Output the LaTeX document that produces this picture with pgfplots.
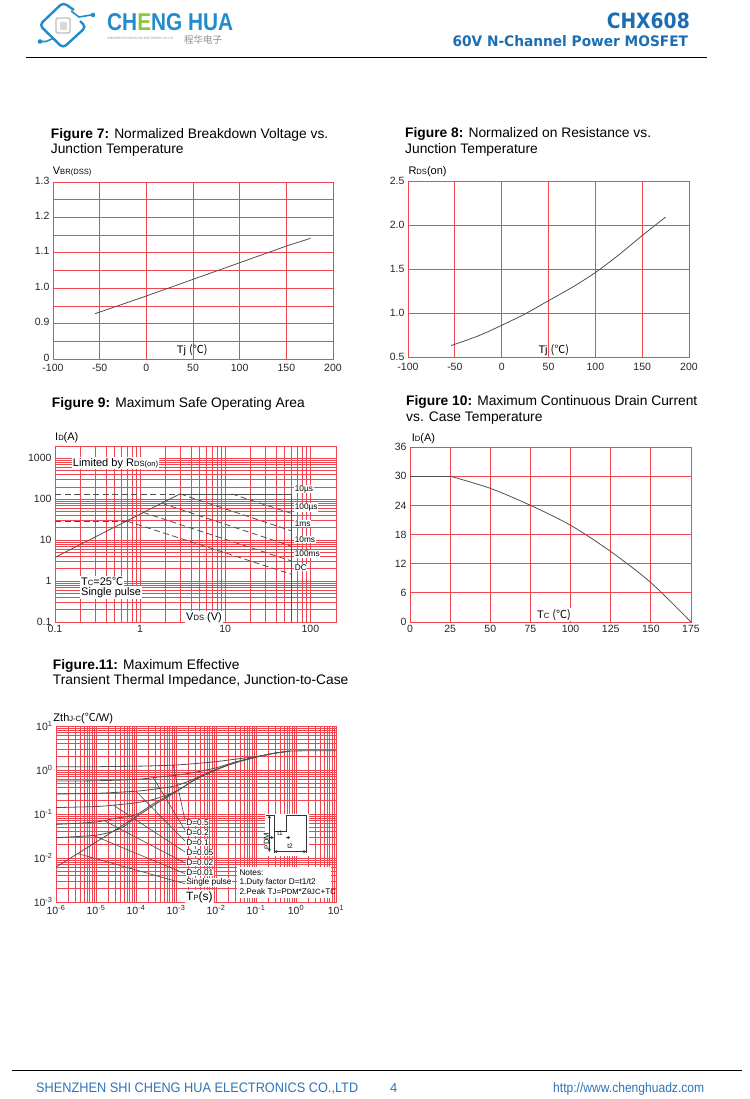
\documentclass[border=0pt]{standalone}
\usepackage{fontspec}
\setmainfont{Liberation Sans}
\newfontfamily\cjk{Noto Sans CJK SC}
\newfontfamily\dvb{DejaVu Sans}
\usepackage{graphicx}
\usepackage{pgfplots}
\pgfplotsset{compat=1.18}
\definecolor{gridred}{RGB}{240,70,80}
\definecolor{hblue}{RGB}{27,110,178}
\definecolor{logoblue}{RGB}{32,140,204}
\definecolor{logogreen}{RGB}{141,198,63}
\definecolor{fblue}{RGB}{45,115,185}
\definecolor{crv}{RGB}{80,80,80}
\newcommand\sm[1]{{\fontsize{7.6bp}{8bp}\selectfont #1}}
\newcommand\tf{\fontsize{13.8bp}{15bp}\selectfont}
\newcommand\lf{\fontsize{10.5bp}{12bp}\selectfont}
\newcommand\af{\fontsize{11bp}{12bp}\selectfont}
\newcommand\nf{\fontsize{8.3bp}{9bp}\selectfont}
\pgfplotsset{
  dsaxis/.style={
    scale only axis, anchor=south west,
    axis line style={draw=gridred, line width=0.9bp},
    grid=both,
    major grid style={draw=gridred, line width=0.75bp},
    minor grid style={draw=gridred, line width=0.75bp},
    major tick length=0pt, minor tick length=0pt,
    tick label style={font=\lf, text=black!85},
    /pgf/number format/assume math mode=true,
  },
  crvs/.style={draw=crv, line width=0.8bp, mark=none},
  dsh/.style={draw=crv, line width=0.8bp, mark=none, dash pattern=on 6bp off 3.5bp},
}
\begin{document}
\begin{tikzpicture}
\path[use as bounding box] (0,0) rectangle (750bp,-1099bp);

% ---------------- Figure 7
\begin{axis}[dsaxis, at={(53bp,-359bp)}, width=280bp, height=177bp,
  xmin=-100, xmax=200, ymin=0.8, ymax=1.3,
  xtick={-100,-50,0,50,100,150,200}, xticklabels={-100,-50,0,50,100,150,200},
  xticklabel style={yshift=-1.5bp},
  yticklabel style={yshift=1.5bp},
  ytick={0.8,0.9,1.0,1.1,1.2,1.3}, yticklabels={0,0.9,1.0,1.1,1.2,1.3},
  minor ytick={0.85,0.95,1.05,1.15,1.25}]
\addplot[crvs] coordinates {(-55,0.928) (0,0.978) (50,1.025) (100,1.072) (150,1.119) (176,1.141)};
\end{axis}

% ---------------- Figure 8
\begin{axis}[dsaxis, at={(408bp,-357bp)}, width=281bp, height=176bp,
  xmin=-100, xmax=200, ymin=0.5, ymax=2.5,
  xtick={-100,-50,0,50,100,150,200}, xticklabels={-100,-50,0,50,100,150,200},
  xticklabel style={yshift=-2.5bp},
  ytick={0.5,1.0,1.5,2.0,2.5}, yticklabels={0.5,1.0,1.5,2.0,2.5}]
\addplot[crvs, smooth] coordinates {(-54,0.63) (-25,0.74) (0,0.86) (25,0.99) (50,1.14) (75,1.29) (100,1.46) (125,1.66) (150,1.88) (175,2.09)};
\end{axis}

% ---------------- Figure 9
\begin{axis}[dsaxis, at={(55bp,-622bp)}, width=281bp, height=176bp,
  xmode=log, ymode=log, xmin=0.1, xmax=200, ymin=0.1, ymax=2000,
  xtick={0.1,1,10,100}, xticklabels={0.1,1,10,100},
  ytick={0.1,1,10,100,1000}, yticklabels={0.1,1,10,100,1000},
  minor xtick={0.2,0.3,0.4,0.5,0.6,0.7,0.8,0.9,2,3,4,5,6,7,8,9,20,30,40,50,60,70,80,90,200},
  minor ytick={0.2,0.3,0.4,0.5,0.6,0.7,0.8,0.9,2,3,4,5,6,7,8,9,20,30,40,50,60,70,80,90,200,300,400,500,600,700,800,900,2000}]
\addplot[crvs] coordinates {(0.1,3.8) (2.94,135)};
\addplot[dsh] coordinates {(0.1,135) (2.94,135)};
\addplot[crvs] coordinates {(2.94,135) (60,135) (60,0.1)};
\addplot[dsh] coordinates {(11.9,135) (60,45)};
\addplot[dsh] coordinates {(2.94,135) (60,16.9)};
\addplot[dsh] coordinates {(1.79,80) (60,7.1)};
\addplot[dsh] coordinates {(1.09,47.6) (60,3.1)};
\addplot[dsh] coordinates {(0.70,29.2) (60,1.47)};
\addplot[dsh] coordinates {(0.1,29.2) (0.70,29.2)};
\end{axis}

% ---------------- Figure 10
\begin{axis}[dsaxis, at={(410bp,-622bp)}, width=281bp, height=175bp,
  xmin=0, xmax=175, ymin=0, ymax=36,
  xtick={0,25,50,75,100,125,150,175}, xticklabels={0,25,50,75,100,125,150,175},
  ytick={0,6,12,18,24,30,36}, yticklabels={0,6,12,18,24,30,36}]
\addplot[crvs] coordinates {(0,30) (25,30)};
\addplot[crvs, smooth] coordinates {(25,30) (50,27.5) (75,24.0) (100,19.9) (125,14.5) (150,8.1) (175,0)};
\end{axis}

% ---------------- Figure 11
\begin{axis}[dsaxis, at={(56bp,-902bp)}, width=280bp, height=176bp,
  xmode=log, ymode=log, xmin=1e-6, xmax=10, ymin=1e-3, ymax=10,
  xtick={1e-6,1e-5,1e-4,1e-3,1e-2,1e-1,1,10},
  xticklabels={10\textsuperscript{-6},10\textsuperscript{-5},10\textsuperscript{-4},10\textsuperscript{-3},10\textsuperscript{-2},10\textsuperscript{-1},10\textsuperscript{0},10\textsuperscript{1}},
  ytick={1e-3,1e-2,1e-1,1,10},
  yticklabels={10\textsuperscript{-3},10\textsuperscript{-2},10\textsuperscript{-1},10\textsuperscript{0},10\textsuperscript{1}},
  minor xtick={2e-6,3e-6,4e-6,5e-6,6e-6,7e-6,8e-6,9e-6,2e-5,3e-5,4e-5,5e-5,6e-5,7e-5,8e-5,9e-5,2e-4,3e-4,4e-4,5e-4,6e-4,7e-4,8e-4,9e-4,2e-3,3e-3,4e-3,5e-3,6e-3,7e-3,8e-3,9e-3,2e-2,3e-2,4e-2,5e-2,6e-2,7e-2,8e-2,9e-2,0.2,0.3,0.4,0.5,0.6,0.7,0.8,0.9,2,3,4,5,6,7,8,9},
  minor ytick={2e-3,3e-3,4e-3,5e-3,6e-3,7e-3,8e-3,9e-3,2e-2,3e-2,4e-2,5e-2,6e-2,7e-2,8e-2,9e-2,0.2,0.3,0.4,0.5,0.6,0.7,0.8,0.9,2,3,4,5,6,7,8,9}]
% single pulse
\addplot[crvs, smooth] coordinates {(1e-6,0.0062) (1e-5,0.023) (1e-4,0.086) (3e-4,0.165) (1e-3,0.32) (3e-3,0.60) (1e-2,1.0) (3e-2,1.45) (1e-1,1.95) (3e-1,2.42) (7e-1,2.68) (1,2.72) (10,2.75)};
% D=0.5
\addplot[crvs, smooth] coordinates {(1e-6,1.18) (1e-5,1.19) (1e-4,1.22) (3e-4,1.25) (1e-3,1.30) (3e-3,1.40) (1e-2,1.55) (3e-2,1.76) (1e-1,2.02) (3e-1,2.42) (7e-1,2.68)};
% D=0.2
\addplot[crvs, smooth] coordinates {(1e-6,0.56) (1e-5,0.57) (1e-4,0.61) (3e-4,0.68) (1e-3,0.76) (3e-3,0.89) (1e-2,1.12) (3e-2,1.52) (1e-1,1.98) (3e-1,2.42) (7e-1,2.68)};
% D=0.1
\addplot[crvs, smooth] coordinates {(1e-6,0.285) (1e-5,0.295) (1e-4,0.33) (3e-4,0.37) (1e-3,0.44) (3e-3,0.64) (1e-2,1.03) (3e-2,1.47) (1e-1,1.96)};
% D=0.05
\addplot[crvs, smooth] coordinates {(1e-6,0.14) (1e-5,0.148) (3e-5,0.16) (1e-4,0.18) (3e-4,0.22) (1e-3,0.33) (3e-3,0.61) (1e-2,1.01)};
% D=0.02
\addplot[crvs, smooth] coordinates {(1e-6,0.058) (1e-5,0.066) (3e-5,0.080) (1e-4,0.097) (3e-4,0.18) (1e-3,0.325)};
% D=0.01
\addplot[crvs, smooth] coordinates {(1e-6,0.029) (1e-5,0.033) (3e-5,0.042) (6e-5,0.058) (1e-4,0.088)};
% leader lines
\addplot[crvs, line width=0.65bp] coordinates {(8.5e-4,1.29) (1.68e-3,0.072)};
\addplot[crvs, line width=0.65bp] coordinates {(2.7e-4,0.67) (1.68e-3,0.043)};
\addplot[crvs, line width=0.65bp] coordinates {(1e-4,0.33) (1.68e-3,0.0244)};
\addplot[crvs, line width=0.65bp] coordinates {(2.7e-5,0.16) (1.68e-3,0.0137)};
\addplot[crvs, line width=0.65bp] coordinates {(1.5e-5,0.073) (1.68e-3,0.0077)};
\addplot[crvs, line width=0.65bp] coordinates {(8.6e-6,0.0325) (1.68e-3,0.0044)};
\addplot[crvs, line width=0.65bp] coordinates {(3.6e-6,0.0125) (1.68e-3,0.0026)};
\end{axis}

\begin{scope}[x=1bp,y=-1bp]
% ---------- header
\draw[logoblue,line width=2.4bp,rounded corners=4bp] (74,10) -- (63,2.5) -- (39.5,25) -- (63,48) -- (86,27) -- (80,21);
\draw[logoblue,line width=1.6bp] (71,11) -- (79,17) -- (91,15);
\fill[logoblue] (93,15) circle (2.3bp);
\draw[logoblue,line width=1.6bp] (53,38.5) -- (46,41.5) -- (41,41.5);
\fill[logoblue] (40,41.5) circle (2.3bp);
\draw[black!25,line width=1.4bp,rounded corners=2bp] (56,18) rectangle (70,33);
\fill[black!15] (59.5,21.5) rectangle (66.5,29.5);
\node[anchor=base west,inner sep=0] at (107,30) {\resizebox{126bp}{17bp}{\bfseries\textcolor{logoblue}{CH}\textcolor{logogreen}{E}\textcolor{logoblue}{NG HUA}}};
\node[anchor=base west,inner sep=0,text=black!45] at (107,40) {\resizebox{66bp}{2.2bp}{SHENZHEN SHI CHENG HUA ELECTRONICS CO.,LTD}};
\node[anchor=base west,inner sep=0,text=black!45] at (184,43.5) {\resizebox{38bp}{!}{\cjk 程华电子}};
\node[anchor=base east,inner sep=0,text=hblue] at (690,28.3) {\resizebox{83bp}{15.6bp}{\dvb\bfseries CHX608}};
\node[anchor=base east,inner sep=0,text=hblue] at (688.3,46.7) {\resizebox{235.6bp}{11bp}{\dvb\bfseries 60V N-Channel Power MOSFET}};
\draw[black,line width=1bp] (26,57) -- (707,57);

% ---------- titles
\node[anchor=base west,inner sep=0,font=\tf] at (50.7,138.3) {\textbf{Figure 7:} Normalized Breakdown Voltage vs.};
\node[anchor=base west,inner sep=0,font=\tf] at (50.7,153.7) {Junction Temperature};
\node[anchor=base west,inner sep=0,font=\tf] at (405,137.7) {\textbf{Figure 8:} Normalized on Resistance vs.};
\node[anchor=base west,inner sep=0,font=\tf] at (405,153.3) {Junction Temperature};
\node[anchor=base west,inner sep=0,font=\tf] at (51.7,407.7) {\textbf{Figure 9:} Maximum Safe Operating Area};
\node[anchor=base west,inner sep=0,font=\tf] at (406,405) {\textbf{Figure 10:} Maximum Continuous Drain Current};
\node[anchor=base west,inner sep=0,font=\tf] at (406,421) {vs. Case Temperature};
\node[anchor=base west,inner sep=0,font=\tf] at (52.7,669) {\textbf{Figure.11:} Maximum Effective};
\node[anchor=base west,inner sep=0,font=\tf] at (52.7,684.3) {Transient Thermal Impedance, Junction-to-Case};

% ---------- axis labels
\node[anchor=base west,inner sep=0,font=\af] at (52.7,174) {V\sm{BR(DSS)}};
\node[anchor=base west,inner sep=0,font=\af] at (176.7,353.5) {Tj {\cjk (℃)}};
\node[anchor=base west,inner sep=0,font=\af] at (408.3,174) {R\sm{DS}(on)};
\node[anchor=base west,inner sep=0,font=\af] at (538.3,353.3) {Tj {\cjk (℃)}};
\node[anchor=base west,inner sep=0,font=\af] at (55,440) {I\sm{D}(A)};
\node[anchor=base west,inner sep=1bp,fill=white,font=\af] at (71.7,466) {Limited by R\sm{DS(on)}};
\node[anchor=base west,inner sep=1bp,fill=white,font=\af] at (80,585) {T\sm{C}=25{\cjk ℃}};
\node[anchor=base west,inner sep=1bp,fill=white,font=\af] at (80,595.3) {Single pulse};
\node[anchor=base west,inner sep=1bp,fill=white,font=\af] at (185,620) {V\sm{DS} (V)};
\foreach \t/\yy in {10µs/489,100µs/507.7,1ms/523.3,10ms/539.3,100ms/554,DC/567.3}
  \node[anchor=west,inner sep=0.6bp,fill=white,font=\nf] at (294,\yy) {\t};
\node[anchor=base west,inner sep=0,font=\af] at (411.7,441.7) {I\sm{D}(A)};
\node[anchor=base west,inner sep=1bp,fill=white,font=\af] at (536,618.3) {T\sm{C} {\cjk (℃)}};
\node[anchor=base west,inner sep=0,font=\af] at (53.3,721) {Zth\sm{J-C}({\cjk ℃}/W)};
\node[anchor=base west,inner sep=1bp,fill=white,font=\fontsize{12bp}{13bp}\selectfont] at (185,900) {T\sm{P}(s)};
\foreach \t/\yy in {D=0.5/822.7,D=0.2/832.7,D=0.1/842.7,D=0.05/852.7,D=0.02/862.7,D=0.01/872.7,Single pulse/882.7}
  \node[anchor=west,inner sep=0.6bp,fill=white,font=\nf] at (185.5,\yy) {\t};
% notes
\fill[white] (237,866.5) rectangle (331,897.5);
\node[anchor=west,inner sep=0,font=\nf] at (239.3,872.7) {Notes:};
\node[anchor=west,inner sep=0,font=\nf] at (239.3,882.3) {1.Duty factor D=t1/t2};
\node[anchor=west,inner sep=0,font=\nf] at (239.3,891.7) {2.Peak T\sm{J}=P\sm{DM}*Z\sm{θJC}+T\sm{C}};
% pulse diagram
\fill[white] (265,814) rectangle (308.5,856);
\draw[black!80,line width=0.6bp] (266,815) -- (274,815) -- (274,831) -- (286,831) -- (286,815) -- (307,815);
\draw[black!80,line width=0.6bp] (306.5,815) -- (306.5,853);
\draw[black!80,line width=0.5bp,<->,>=stealth] (269.3,815) -- (269.3,852);
\draw[black!80,line width=0.5bp] (274,831) -- (274,853);
\draw[black!80,line width=0.5bp,<-,>=stealth] (274,837.5) -- (270,837.5);
\draw[black!80,line width=0.5bp,<-,>=stealth] (286,837.5) -- (290,837.5);
\draw[black!80,line width=0.5bp,<->,>=stealth] (274,851.5) -- (306.5,851.5);
\node[font=\fontsize{6.5bp}{7bp}\selectfont,inner sep=0] at (280,833.5) {t1};
\node[font=\fontsize{6.5bp}{7bp}\selectfont,inner sep=0] at (290,846.5) {t2};
\node[font=\fontsize{6.5bp}{7bp}\selectfont,inner sep=0,rotate=90] at (266.5,841) {P\sm{DM}};

% ---------- footer
\draw[black,line width=0.9bp] (12,1070) -- (742,1070);
\node[anchor=base west,inner sep=0,text=fblue] at (36,1092.3) {\resizebox{322bp}{9.6bp}{SHENZHEN SHI CHENG HUA ELECTRONICS CO.,LTD}};
\node[anchor=base west,inner sep=0,text=fblue,font=\fontsize{13bp}{14bp}\selectfont] at (390,1092.3) {4};
\node[anchor=base west,inner sep=0,text=fblue] at (553,1092.3) {\resizebox{151bp}{9.8bp}{http://www.chenghuadz.com}};
\end{scope}
\end{tikzpicture}
\end{document}
